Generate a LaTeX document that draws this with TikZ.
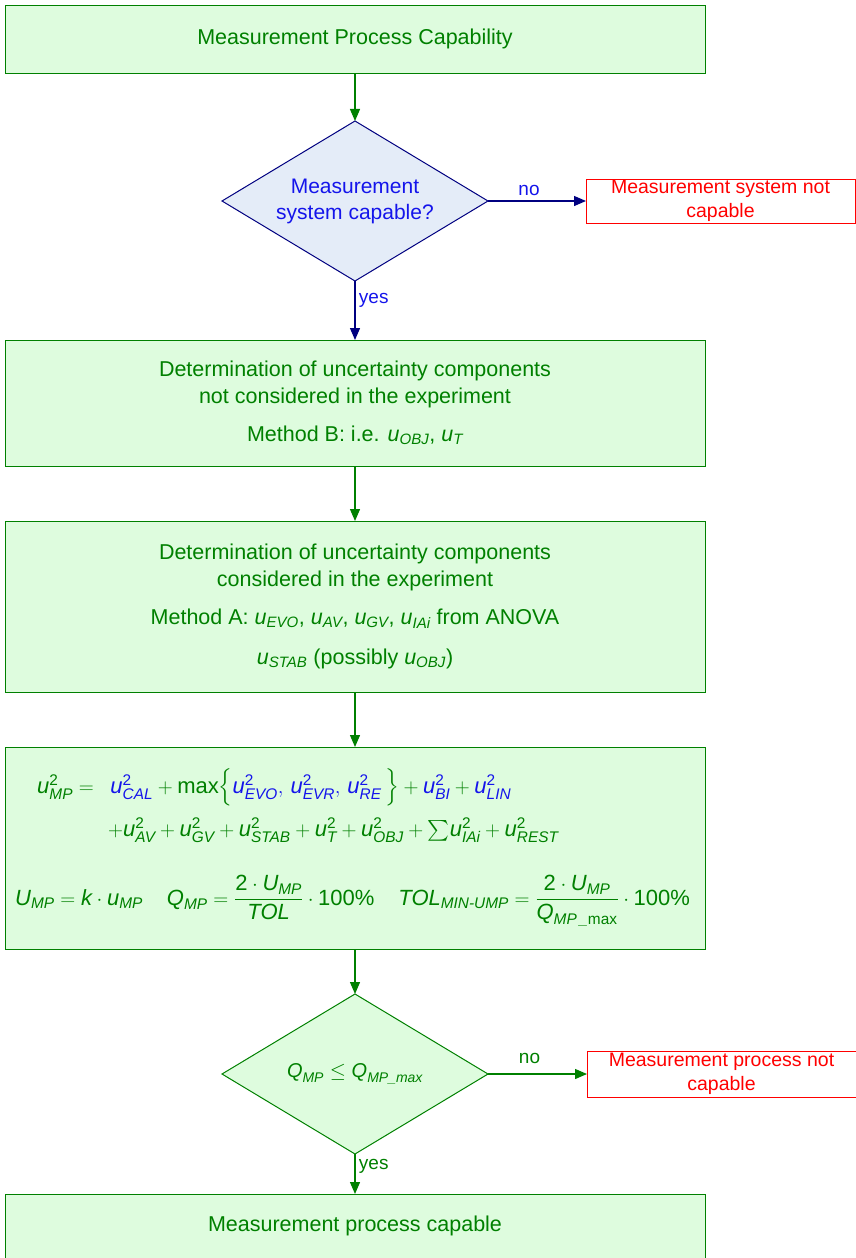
\documentclass[tikz,border=0pt]{standalone}
\usepackage{amsmath}
\usepackage{fontspec}
\setmainfont{Liberation Sans}
\usetikzlibrary{arrows.meta, positioning, shapes.geometric, calc}
\definecolor{mpgreen}{RGB}{0,128,0}
\definecolor{mpfill}{RGB}{222,252,222}
\definecolor{mpblue}{RGB}{20,20,235}
\definecolor{mpnavy}{RGB}{0,0,128}
\definecolor{mpbluefill}{RGB}{228,236,248}
\definecolor{mpred}{RGB}{255,0,0}
\newcommand{\vsym}[2]{\text{\itshape #1}_{\text{\itshape #2}}}
\newcommand{\usub}[1]{\vsym{u}{#1}}
\newcommand{\usq}[1]{\text{\itshape u}^{\text{2}}_{\text{\itshape #1}}}
\tikzset{
  flowbox/.style={draw=mpgreen, fill=mpfill, line width=1pt, minimum width=700pt, minimum height=#1,
      align=center, text=mpgreen, font=\fontsize{21.5}{27}\selectfont, inner sep=0pt, outer sep=0pt},
  decbox/.style={diamond, draw=#1, line width=1pt, minimum width=266pt, minimum height=160pt,
      aspect=1.66, inner sep=0pt, outer sep=0pt, align=center},
  failbox/.style={draw=mpred, fill=white, line width=1pt, minimum width=269pt, minimum height=#1,
      align=center, text=mpred, font=\fontsize{19.5}{24}\selectfont, inner sep=0pt, outer sep=0pt},
  flowarrow/.style={-{Triangle[length=12pt, width=10pt]}, line width=1.3pt, draw=#1},
  flowlbl/.style={font=\fontsize{19}{22}\selectfont, text=#1},
  mathline/.style={anchor=base west, inner sep=0pt, text=mpgreen, font=\fontsize{22}{26}\selectfont},
}

\begin{document}
\begin{tikzpicture}[x=1pt, y=1pt]
  \useasboundingbox (0,0) rectangle (855,-1258);

  % === System check ===
  \node[flowbox=68pt] (start) at (355,-39) {Measurement Process Capability};
  \node[decbox=mpnavy, fill=mpbluefill, text=mpblue, font=\fontsize{21}{26}\selectfont,
      below=48pt of start] (syscap) {Measurement\\system capable?};
  \node[failbox=44pt, right=98pt of syscap] (sysnot) {Measurement system not\\capable};

  \draw[flowarrow=mpgreen] (start) -- (syscap);
  \draw[flowarrow=mpnavy] (syscap) -- node[flowlbl=mpblue, above=1pt, xshift=-8pt] {no} (sysnot);

  % === Uncertainty components ===
  \node[flowbox=126pt, below=59pt of syscap] (methb) {Determination of uncertainty components\\
      not considered in the experiment\\[11pt]
      Method B: i.e. $\usub{OBJ}$, $\usub{T}$};
  \node[flowbox=171pt, below=55pt of methb] (metha) {Determination of uncertainty components\\
      considered in the experiment\\[11pt]
      Method A: $\usub{EVO}$, $\usub{AV}$, $\usub{GV}$, $\usub{IAi}$ from ANOVA\\[13pt]
      $\usub{STAB}$ (possibly $\usub{OBJ}$)};

  \draw[flowarrow=mpnavy] (syscap) -- node[flowlbl=mpblue, right, pos=0.32] {yes} (methb);
  \draw[flowarrow=mpgreen] (methb) -- (metha);

  % === Model equation ===
  \node[flowbox=202pt, below=55pt of metha] (model) {};
  \node[mathline] (mline1) at ($(model.north west)+(32,-46)$)
      {$\usq{MP} =\enskip \textcolor{mpblue}{\usq{CAL}} + \text{max}\Big\{\textcolor{mpblue}{\usq{EVO},\, \usq{EVR},\, \usq{RE}}\,\Big\}
       + \textcolor{mpblue}{\usq{BI}} + \textcolor{mpblue}{\usq{LIN}}$};
  \node[mathline] (mline2) at ($(model.north west)+(103,-89)$)
      {$+\usq{AV} + \usq{GV} + \usq{STAB} + \usq{T} + \usq{OBJ} + {\textstyle\sum}\usq{IAi} + \usq{REST}$};
  \node[mathline] (mline3) at ($(model.north west)+(10,-158)$)
      {$\vsym{U}{MP} = \text{\itshape k}\cdot\usub{MP}$\hspace{24pt}%
       $\vsym{Q}{MP} = \dfrac{\text{2}\cdot\vsym{U}{MP}}{\text{\itshape TOL}}\cdot\text{100\%}$\hspace{24pt}%
       $\vsym{TOL}{MIN-UMP} = \dfrac{\text{2}\cdot\vsym{U}{MP}}{\text{\itshape Q}_{\text{\itshape MP\,\_\upshape max}}}\cdot\text{100\%}$};

  \draw[flowarrow=mpgreen] (metha) -- (model);

  % === Process check ===
  \node[decbox=mpgreen, fill=mpfill, text=mpgreen, font=\fontsize{20}{24}\selectfont,
      below=45pt of model] (proccap) {$\vsym{Q}{MP} \leq \vsym{Q}{MP\_max}$};
  \node[failbox=46pt, right=99pt of proccap] (procnot) {Measurement process not\\capable};
  \node[flowbox=64pt, below=40pt of proccap] (capable) {Measurement process capable};

  \draw[flowarrow=mpgreen] (model) -- (proccap);
  \draw[flowarrow=mpgreen] (proccap) -- node[flowlbl=mpgreen, above=6pt, xshift=-8pt] {no} (procnot);
  \draw[flowarrow=mpgreen] (proccap) -- node[flowlbl=mpgreen, right, pos=0.3] {yes} (capable);
\end{tikzpicture}
\end{document}
